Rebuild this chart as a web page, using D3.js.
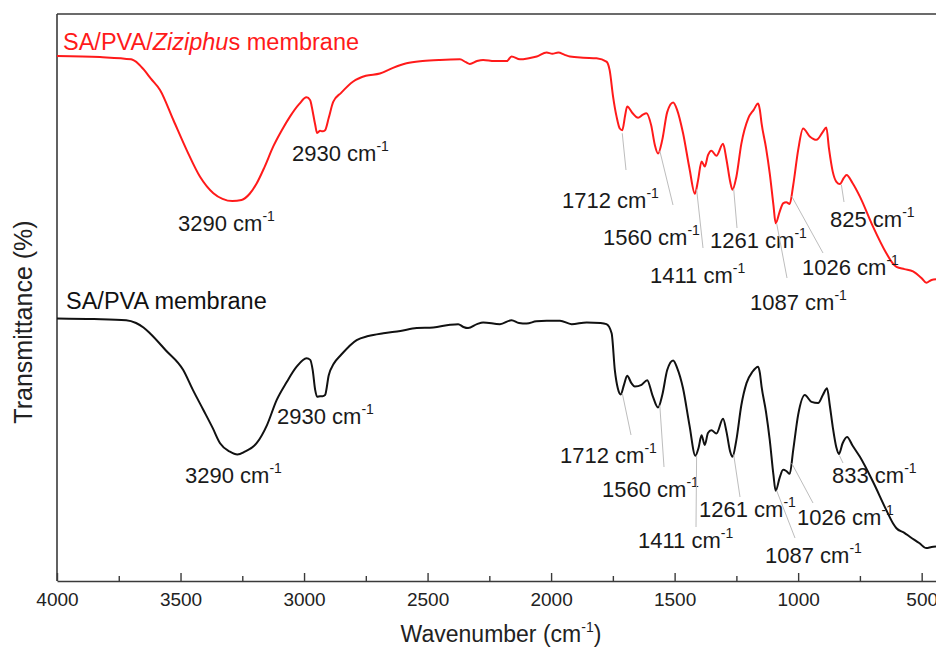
<!DOCTYPE html>
<html>
<head>
<meta charset="utf-8">
<script src="https://cdn.jsdelivr.net/npm/d3@7"></script>
<style>
  html, body { margin: 0; padding: 0; background: #fff; }
  svg { display: block; font-family: "Liberation Sans", Arial, sans-serif; }
</style>
</head>
<body>
<svg id="chart" width="936" height="649"></svg>
<script>
// FTIR spectra: [wavenumber (cm-1), transmittance (a.u.)]
const zizSpectrum = [
  [4000,92.6],[3826,92.4],[3700,92.0],[3670,91.2],[3645,90.0],[3620,88.6],[3583,86.6],[3529,81.3],[3475,76.0],
  [3421,71.3],[3367,68.4],[3330,67.4],[3290,67.0],[3253,67.2],[3220,68.3],[3192,70.1],[3160,73.0],
  [3125,76.6],[3090,79.5],[3057,81.9],[3020,84.1],[2990,85.3],[2975,84.8],[2969,83.7],[2955,80.5],
  [2947,79.0],[2935,79.4],[2925,79.3],[2915,79.5],[2900,81.7],[2882,84.5],[2850,86.1],[2801,88.1],
  [2750,89.1],[2693,89.5],[2640,90.5],[2585,91.3],[2520,91.7],[2450,91.9],[2369,92.0],[2345,91.5],
  [2329,91.2],[2300,91.7],[2275,91.9],[2230,91.7],[2180,91.7],[2160,92.5],[2126,92.0],[2090,92.2],
  [2058,92.5],[2018,93.2],[1995,93.0],[1971,93.2],[1945,92.8],[1924,92.5],[1870,92.3],[1816,92.2],
  [1776,91.6],[1763,90.1],[1749,85.4],[1735,81.9],[1722,79.8],[1712,79.5],[1700,82.2],[1692,83.7],
  [1670,82.5],[1648,81.7],[1630,82.2],[1614,82.5],[1595,80.4],[1580,76.9],[1567,75.4],[1550,77.8],
  [1530,82.7],[1506,84.4],[1490,83.1],[1466,79.0],[1440,72.8],[1418,68.3],[1405,70.7],[1391,74.0],
  [1378,73.1],[1365,75.1],[1351,75.9],[1331,75.0],[1304,77.1],[1290,74.3],[1275,70.4],[1266,69.0],
  [1250,71.3],[1230,77.1],[1202,81.6],[1180,83.1],[1162,84.2],[1155,83.1],[1148,80.7],[1130,76.4],
  [1115,71.9],[1100,66.3],[1091,63.1],[1075,65.1],[1061,66.6],[1048,66.8],[1034,66.5],[1020,69.8],
  [1000,76.0],[980,79.8],[953,78.4],[926,77.8],[900,79.2],[886,80.0],[875,76.2],[860,72.2],
  [845,70.4],[831,70.0],[815,71.1],[804,71.6],[780,70.2],[750,67.8],[697,62.5],[643,57.8],
  [615,55.9],[602,55.4],[570,55.0],[535,54.6],[500,53.4],[481,52.6],[460,53.1],[442,53.2]
];

const baseSpectrum = [
  [4000,46.3],[3850,46.2],[3720,46.0],[3680,45.5],[3650,44.7],[3624,43.7],[3560,40.7],[3489,37.2],[3450,33.7],
  [3408,30.2],[3370,27.0],[3340,24.3],[3300,22.8],[3270,22.3],[3240,22.8],[3192,24.3],[3150,27.5],
  [3111,31.9],[3070,35.1],[3030,37.8],[2990,39.3],[2975,39.0],[2965,37.2],[2955,33.7],[2947,32.5],
  [2935,32.6],[2925,32.6],[2915,32.8],[2900,36.3],[2880,38.3],[2850,39.9],[2787,42.5],[2740,43.2],
  [2679,43.7],[2610,44.1],[2544,44.6],[2477,44.7],[2409,45.2],[2376,45.3],[2355,44.8],[2336,44.6],
  [2300,45.3],[2275,45.6],[2207,45.3],[2160,46.0],[2130,45.5],[2099,45.4],[2060,45.8],[2018,45.9],
  [1964,45.9],[1917,45.3],[1856,45.6],[1800,45.5],[1776,45.3],[1755,43.7],[1742,37.2],[1730,34.0],
  [1718,32.9],[1705,34.6],[1692,36.2],[1675,34.9],[1661,34.3],[1634,34.6],[1611,35.4],[1590,32.8],
  [1567,30.6],[1550,32.8],[1530,37.2],[1506,38.9],[1490,37.6],[1466,34.0],[1440,27.5],[1416,22.1],
  [1403,23.5],[1391,25.7],[1378,24.0],[1365,26.1],[1351,26.6],[1331,26.0],[1304,28.6],[1290,26.3],
  [1275,22.8],[1266,21.9],[1250,24.9],[1230,31.0],[1209,34.9],[1185,36.9],[1162,37.8],[1155,36.7],
  [1148,34.3],[1130,29.8],[1115,24.9],[1100,18.7],[1091,15.9],[1075,18.2],[1061,19.6],[1048,19.4],
  [1034,18.9],[1020,23.1],[1000,29.3],[973,32.8],[946,31.6],[919,31.4],[900,32.8],[883,34.0],
  [872,31.0],[860,27.2],[845,23.5],[835,22.4],[820,24.3],[802,25.4],[780,23.9],[750,21.9],
  [697,17.5],[643,12.5],[615,10.1],[602,9.3],[570,8.5],[548,7.8],[510,6.7],[481,5.8],
  [460,6.0],[442,6.1]
];

// Band assignments labelled on each spectrum (cm-1)
const zizBands  = [3290, 2930, 1712, 1560, 1411, 1261, 1087, 1026, 825];
const baseBands = [3290, 2930, 1712, 1560, 1411, 1261, 1087, 1026, 833];

// Axis ticks
const majorTicks = [4000, 3500, 3000, 2500, 2000, 1500, 1000, 500];
const minorTicks = [3750, 3250, 2750, 2250, 1750, 1250, 750];

// Label placement: text anchor (left, baseline) and leader-line end, in px
const zizLayout = {
  3290: {tx: 178, ty: 231, leader: false},
  2930: {tx: 292, ty: 161, leader: false},
  1712: {tx: 562, ty: 208, lx: 626, ly: 170},
  1560: {tx: 603, ty: 245, lx: 673, ly: 205},
  1411: {tx: 650, ty: 283, lx: 703, ly: 248},
  1261: {tx: 710, ty: 248, lx: 737, ly: 228},
  1087: {tx: 750, ty: 310, lx: 787, ly: 278},
  1026: {tx: 802, ty: 275, lx: 823, ly: 253},
  825:  {tx: 830, ty: 227, lx: 844, ly: 202}
};
const baseLayout = {
  3290: {tx: 185, ty: 483, leader: false},
  2930: {tx: 277, ty: 424, leader: false},
  1712: {tx: 560, ty: 463, lx: 631, ly: 435},
  1560: {tx: 602, ty: 497, lx: 664, ly: 467},
  1411: {tx: 638, ty: 548, lx: 696, ly: 527},
  1261: {tx: 699, ty: 517, lx: 740, ly: 497},
  1087: {tx: 765, ty: 563, lx: 795, ly: 538},
  1026: {tx: 797, ty: 525, lx: 813, ly: 503},
  833:  {tx: 832, ty: 483, lx: 843, ly: 463}
};

const margin = {left: 57, top: 14, right: 936, bottom: 581};
const svg = d3.select("#chart");

const x = d3.scaleLinear().domain([4000, 442]).range([margin.left, margin.right]);
const y = d3.scaleLinear().domain([0, 100]).range([margin.bottom, margin.top]);

svg.append("defs").append("clipPath").attr("id", "plot")
  .append("rect")
  .attr("x", margin.left).attr("y", margin.top)
  .attr("width", margin.right - margin.left).attr("height", margin.bottom - margin.top);

const line = d3.line()
  .x(d => x(d[0])).y(d => y(d[1]))
  .curve(d3.curveMonotoneX);

// Interpolated transmittance at a given wavenumber
function valueAt(series, wn) {
  for (let i = 0; i < series.length - 1; i++) {
    const a = series[i], b = series[i + 1];
    if (wn <= a[0] && wn >= b[0]) {
      const t = (a[0] - wn) / (a[0] - b[0]);
      return a[1] + t * (b[1] - a[1]);
    }
  }
  return series[series.length - 1][1];
}

// Frame: left and top edges
svg.append("line")
  .attr("x1", margin.left).attr("x2", margin.left)
  .attr("y1", margin.top).attr("y2", margin.bottom)
  .attr("stroke", "#3a3a3a").attr("stroke-width", 1.6);
svg.append("line")
  .attr("x1", margin.left).attr("x2", margin.right)
  .attr("y1", margin.top).attr("y2", margin.top)
  .attr("stroke", "#3a3a3a").attr("stroke-width", 1.6);

// Bottom axis with inward ticks
const xAxis = d3.axisBottom(x)
  .tickValues(majorTicks)
  .tickFormat(d3.format("d"))
  .tickSizeInner(-8).tickSizeOuter(0).tickPadding(12);
const gx = svg.append("g")
  .attr("transform", `translate(0,${margin.bottom})`)
  .call(xAxis);
gx.select(".domain").attr("stroke", "#3a3a3a").attr("stroke-width", 1.6);
gx.selectAll(".tick line").attr("stroke", "#3a3a3a").attr("stroke-width", 1.4);
gx.selectAll(".tick text")
  .attr("fill", "#222").attr("font-size", 19)
  .attr("font-family", "Liberation Sans, Arial, sans-serif");

const xMinor = d3.axisBottom(x).tickValues(minorTicks).tickFormat("")
  .tickSizeInner(-5).tickSizeOuter(0);
const gm = svg.append("g")
  .attr("transform", `translate(0,${margin.bottom})`)
  .call(xMinor);
gm.select(".domain").remove();
gm.selectAll(".tick line").attr("stroke", "#3a3a3a").attr("stroke-width", 1.4);

// Axis titles
const xTitle = svg.append("text")
  .attr("x", 501).attr("y", 642)
  .attr("text-anchor", "middle").attr("font-size", 23).attr("fill", "#222");
xTitle.append("tspan").text("Wavenumber (cm");
xTitle.append("tspan").attr("dy", -10).attr("font-size", 14).text("-1");
xTitle.append("tspan").attr("dy", 10).text(")");

svg.append("text")
  .attr("transform", "translate(32,322) rotate(-90)")
  .attr("text-anchor", "middle").attr("font-size", 25).attr("fill", "#222")
  .text("Transmittance (%)");

// Spectra
const plot = svg.append("g").attr("clip-path", "url(#plot)");
plot.append("path").datum(zizSpectrum)
  .attr("d", line).attr("fill", "none")
  .attr("stroke", "#ff1a1a").attr("stroke-width", 2).attr("stroke-linejoin", "round");
plot.append("path").datum(baseSpectrum)
  .attr("d", line).attr("fill", "none")
  .attr("stroke", "#111").attr("stroke-width", 2).attr("stroke-linejoin", "round");

// Series names
const zizName = svg.append("text")
  .attr("x", 63).attr("y", 50).attr("font-size", 23.5).attr("fill", "#ff1a1a");
zizName.append("tspan").text("SA/PVA/");
zizName.append("tspan").attr("font-style", "italic").text("Ziziphu");
zizName.append("tspan").text("s membrane");

svg.append("text")
  .attr("x", 66).attr("y", 309).attr("font-size", 23.5).attr("fill", "#111")
  .text("SA/PVA membrane");

// Band labels with leader lines
function drawBands(series, bands, layout) {
  const g = svg.append("g");
  bands.forEach(wn => {
    const p = layout[wn];
    if (p.leader !== false) {
      g.append("line")
        .attr("x1", x(wn)).attr("y1", y(valueAt(series, wn)) + 3)
        .attr("x2", p.lx).attr("y2", p.ly)
        .attr("stroke", "#bdbdbd").attr("stroke-width", 1);
    }
    const t = g.append("text")
      .attr("x", p.tx).attr("y", p.ty)
      .attr("font-size", 22).attr("fill", "#1a1a1a");
    t.append("tspan").text(`${wn} cm`);
    t.append("tspan").attr("dy", -10).attr("font-size", 14).text("-1");
  });
}
drawBands(zizSpectrum, zizBands, zizLayout);
drawBands(baseSpectrum, baseBands, baseLayout);
</script>
</body>
</html>
